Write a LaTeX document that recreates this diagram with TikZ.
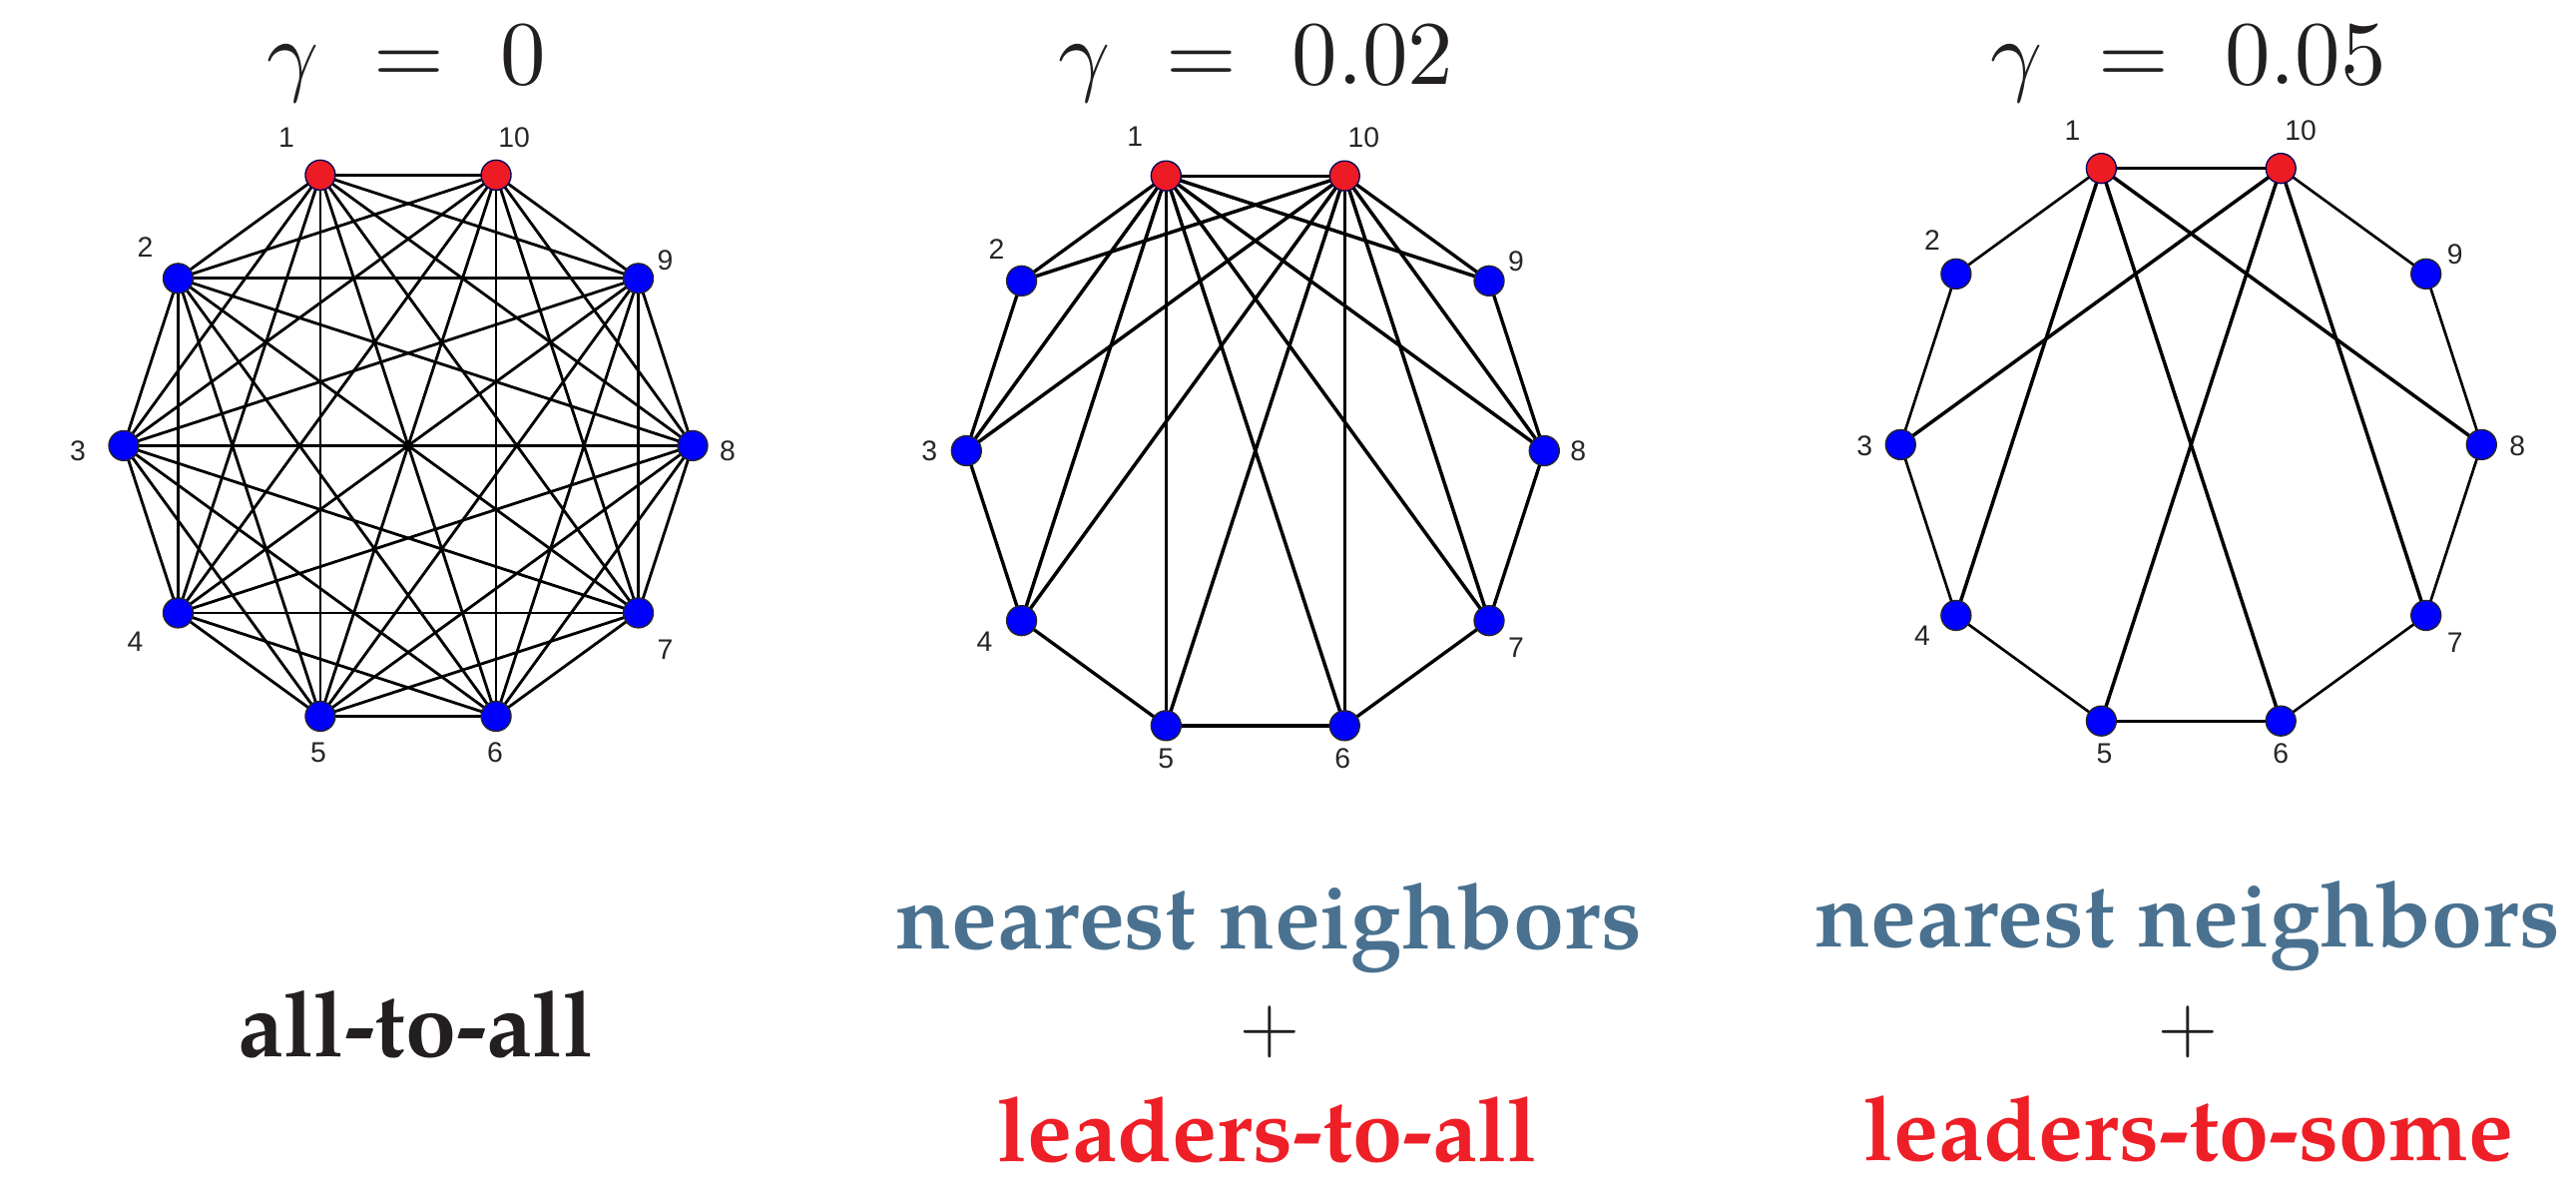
\documentclass[tikz,border=0pt]{standalone}
\usepackage{fontspec}
\newfontfamily\labelfont{Liberation Sans}
\newfontfamily\captionfont{TeX Gyre Pagella}
\usetikzlibrary{backgrounds,calc}

% Computer Modern at its 10pt design, scaled up for the panel titles
\font\titlemi=cmmi10 at 27.3pt
\font\titlerm=cmr10 at 27.3pt
\newcommand\gammatitle[1]{{\titlemi\char13\/}\hskip16.7pt{\titlerm =}\hskip16.7pt{\titlerm #1}}

\definecolor{leaderred}{HTML}{ED1C24}
\definecolor{nodeblue}{HTML}{0000FF}
\definecolor{nnblue}{HTML}{4A7290}
\definecolor{capred}{HTML}{EE1F27}
\definecolor{inkblack}{HTML}{231F20}

\tikzset{
  vtx/.style={circle, inner sep=0pt, minimum size=9pt, line width=0.4pt},
  leader/.style={vtx, fill=leaderred, draw=black!65!blue},
  follower/.style={vtx, fill=nodeblue, draw=black!85},
  num/.style={font=\labelfont\fontsize{8.5}{10}\selectfont, inner sep=0pt, text=black!85},
  edge/.style={line width=0.85pt, black},
  ringedge/.style={line width=0.8pt, black},
  longedge/.style={line width=1.05pt, black},
  title/.style={text=inkblack, anchor=base, inner sep=0pt},
  caption/.style={font=\captionfont\bfseries\fontsize{27.5}{33}\selectfont, anchor=base, inner sep=0pt, text depth=0pt},
  leaders/.style={caption, font=\captionfont\bfseries\fontsize{27}{33}\selectfont, text=capred},
  plus/.style={font=\fontsize{27}{32}\selectfont, text=inkblack, inner sep=0pt},
}

% ten vertices on a regular decagon: #1 name prefix, #2/#3 centre, #4 radius,
% #5 list k/dx/dy of label offsets
\newcommand\decagonnet[5]{%
  \foreach \k in {1,...,10}{%
    \pgfmathsetmacro\ang{108+36*(\k-1)}%
    \ifnum\k=1 \def\vsty{leader}\else\ifnum\k=10 \def\vsty{leader}\else\def\vsty{follower}\fi\fi
    \node[\vsty] (#1\k) at ({#2+#4*cos(\ang)},{#3-#4*sin(\ang)}) {};
  }
  \foreach \k/\dx/\dy in {#5}{%
    \node[num] (#1l\k) at ($(#1\k)+(\dx,\dy)$) {\k};
  }
}

\begin{document}
\begin{tikzpicture}[x=0.3pt, y=-0.3pt]
  \useasboundingbox (0,0) rectangle (2581,1182);

  % ---------- gamma = 0 : all-to-all ----------
  \node[title] (t1) at (407,84) {\gammatitle{0}};
  \decagonnet{a}{409}{446.4}{285}{1/-34/-38, 10/18/-38, 2/-33/-31, 9/27/-18, 3/-46/5, 8/35/5, 4/-43/29, 7/27/37, 5/-2/36, 6/-1/36}
  \begin{pgfonlayer}{background}
    \foreach \i in {1,...,9}{%
      \pgfmathtruncatemacro\nx{\i+1}%
      \foreach \j in {\nx,...,10}{\draw[edge] (a\i.center) -- (a\j.center);}
    }
  \end{pgfonlayer}
  \node[caption, text=inkblack] (c1) at (416.5,1058) {all-to-all};

  % ---------- gamma = 0.02 : nearest neighbours + leaders-to-all ----------
  \node[title] (t2) at (1258.5,84) {\gammatitle{0.02}};
  \decagonnet{b}{1257.8}{451.5}{289.5}{1/-31/-39, 10/19/-38, 2/-25/-32, 9/27/-20, 3/-37/0, 8/34/0, 4/-37/21, 7/27/27, 5/0/33, 6/-2/33}
  \begin{pgfonlayer}{background}
    \foreach \i/\j in {1/2,2/3,3/4,4/5,5/6,6/7,7/8,8/9,9/10,10/1}{\draw[ringedge, line width=1pt] (b\i.center) -- (b\j.center);}
    \foreach \j in {3,...,9}{\draw[longedge] (b1.center) -- (b\j.center);}
    \foreach \j in {2,...,8}{\draw[longedge] (b10.center) -- (b\j.center);}
  \end{pgfonlayer}
  \node[caption, text=nnblue] (n2) at (1271.5,950) {nearest neighbors};
  \node[plus] (p2) at (1272,1034) {$+$};
  \node[leaders] (l2) at (1270,1163) {leaders-to-all};

  % ---------- gamma = 0.05 : nearest neighbours + leaders-to-some ----------
  \node[title] (t3) at (2193,84) {\gammatitle{0.05}};
  \decagonnet{c}{2195.3}{445.4}{291}{1/-29/-38, 10/20/-38, 2/-24/-34, 9/29/-20, 3/-36/1, 8/36/1, 4/-34/20, 7/29/27, 5/3/33, 6/0/33}
  \begin{pgfonlayer}{background}
    \foreach \i/\j in {1/2,2/3,3/4,4/5,5/6,6/7,7/8,8/9,9/10,10/1}{\draw[ringedge] (c\i.center) -- (c\j.center);}
    \foreach \j in {4,6,8}{\draw[longedge] (c1.center) -- (c\j.center);}
    \foreach \j in {3,5,7}{\draw[longedge] (c10.center) -- (c\j.center);}
  \end{pgfonlayer}
  \node[caption, text=nnblue] (n3) at (2192,948) {nearest neighbors};
  \node[plus] (p3) at (2192,1034) {$+$};
  \node[leaders] (l3) at (2193,1162) {leaders-to-some};
\end{tikzpicture}
\end{document}
